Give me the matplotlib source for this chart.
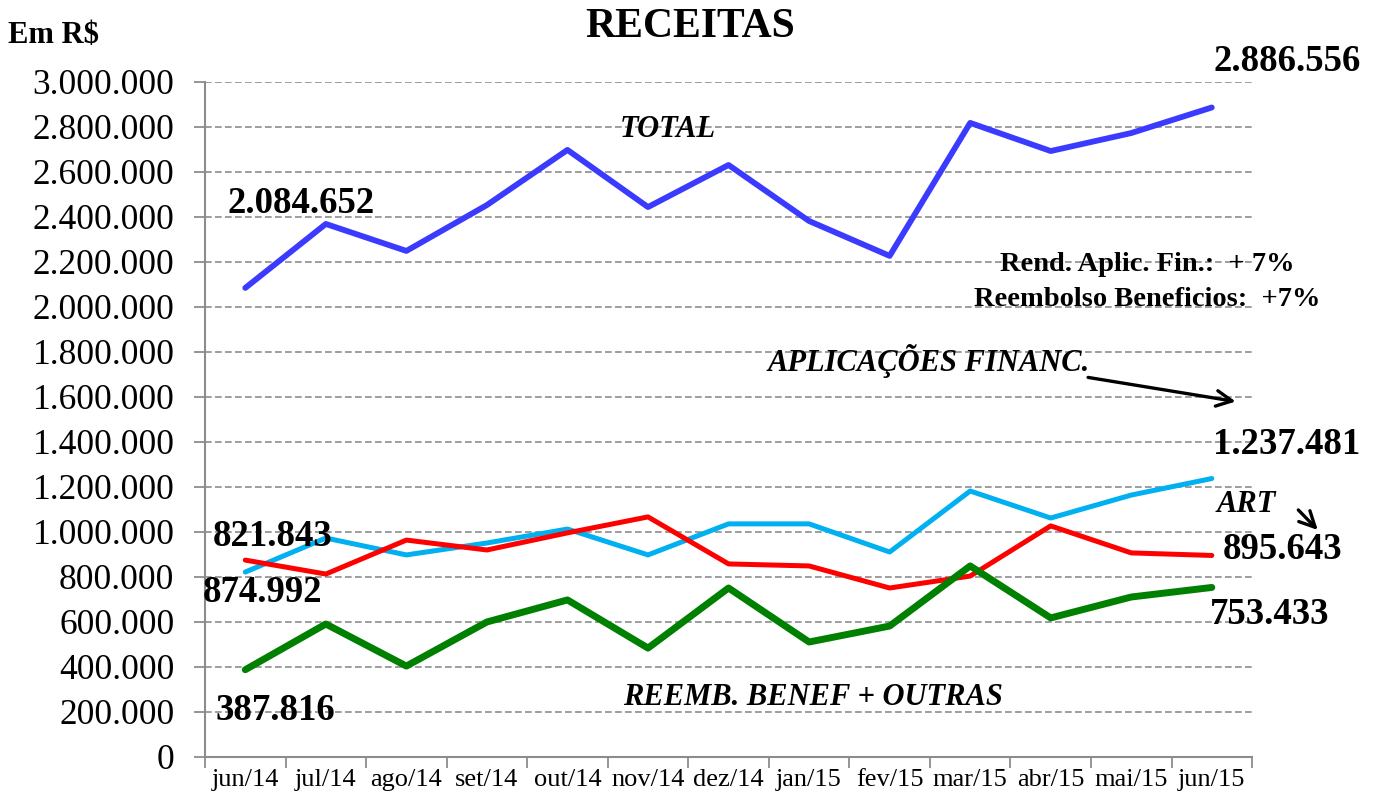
import matplotlib
matplotlib.use("Agg")
import matplotlib.pyplot as plt
from matplotlib.ticker import FuncFormatter, MultipleLocator, FixedLocator

FIG_W = 13.75
FIG_H = 7.98
DPI = 100

plt.rcParams['font.family'] = ['Liberation Serif', 'DejaVu Serif']

# data (R$)
meses = ['jun/14', 'jul/14', 'ago/14', 'set/14', 'out/14', 'nov/14', 'dez/14',
         'jan/15', 'fev/15', 'mar/15', 'abr/15', 'mai/15', 'jun/15']

total = [2084652, 2369000, 2249000, 2453000, 2698000, 2444000, 2631000,
         2382000, 2227000, 2818000, 2693000, 2773000, 2886556]
aplicacoes = [821843, 973000, 898000, 951000, 1013000, 898000, 1036000,
              1036000, 911000, 1182000, 1062000, 1164000, 1237481]
art = [874992, 813000, 964000, 920000, 996000, 1067000, 858000,
       849000, 751000, 804000, 1027000, 907000, 895643]
reemb = [387816, 591000, 404000, 600000, 698000, 484000, 751000,
         511000, 582000, 849000, 618000, 711000, 753433]


def fmt_br(v, pos=None):
    # 2.084.652 style
    return f"{int(round(v)):,}".replace(",", ".")


fig = plt.figure(figsize=(FIG_W, FIG_H), dpi=DPI)
ax = fig.add_axes([0.1491, 0.0514, 0.7615, 0.8459])

x = list(range(len(meses)))
ax.plot(x, total, color='#3B3BFF', lw=4.2, solid_capstyle='round', zorder=3)
ax.plot(x, aplicacoes, color='#00B0F0', lw=3.6, solid_capstyle='round', zorder=3)
ax.plot(x, art, color='#FF0000', lw=3.6, solid_capstyle='round', zorder=3)
ax.plot(x, reemb, color='#008000', lw=5.0, solid_capstyle='round', zorder=3)

ax.set_xlim(-0.5, len(meses) - 0.5)
ax.set_ylim(0, 3000000)

ax.yaxis.set_major_locator(MultipleLocator(200000))
ax.yaxis.set_major_formatter(FuncFormatter(fmt_br))
ax.grid(axis='y', color='#8C8C8C', ls=(0, (4, 2)), lw=1.2, zorder=1)

ax.set_xticks(x)
ax.set_xticklabels(meses)
ax.xaxis.set_minor_locator(FixedLocator([i - 0.5 for i in range(len(meses) + 1)]))
ax.tick_params(axis='x', which='major', length=0, pad=9, labelsize=19)
ax.tick_params(axis='x', which='minor', length=8, width=1.3, color='#8C8C8C')
ax.tick_params(axis='y', length=8, width=1.3, color='#8C8C8C', pad=14, labelsize=25.5)

for s in ['top', 'right']:
    ax.spines[s].set_visible(False)
for s in ['left', 'bottom']:
    ax.spines[s].set_color('#8C8C8C')
    ax.spines[s].set_linewidth(1.5)

# titles
fig.text(0.502, 0.966, 'RECEITAS', ha='center', va='center', fontsize=30, fontweight='bold')
fig.text(0.006, 0.956, 'Em R$', ha='left', va='center', fontsize=22, fontweight='bold')

# value labels
lab = dict(ha='center', va='center', fontsize=26.5, fontweight='bold', clip_on=False, zorder=4)
ax.text(0.69, 2457800, fmt_br(total[0]), **lab)
ax.text(12.93, 3088900, fmt_br(total[-1]), **lab)
ax.text(0.34, 977800, fmt_br(aplicacoes[0]), **lab)
ax.text(12.93, 1386700, fmt_br(aplicacoes[-1]), **lab)
ax.text(0.21, 728900, fmt_br(art[0]), **lab)
ax.text(12.88, 920000, fmt_br(art[-1]), **lab)
ax.text(0.37, 204400, fmt_br(reemb[0]), **lab)
ax.text(12.72, 631100, fmt_br(reemb[-1]), **lab)

# series names
nm = dict(ha='center', va='center', fontsize=22, fontweight='bold', fontstyle='italic',
          clip_on=False, zorder=4)
ax.text(5.25, 2786600, 'TOTAL', **nm)
ax.text(8.48, 1760000, 'APLICAÇÕES FINANC.', **nm)
ax.text(12.43, 1120000, 'ART', **nm)
ax.text(7.05, 262200, 'REEMB. BENEF + OUTRAS', **nm)

ax.text(11.2, 2186700, 'Rend. Aplic. Fin.:  + 7%', ha='center', va='center',
        fontsize=20.5, fontweight='bold', zorder=4)
ax.text(11.2, 2031000, 'Reembolso Beneficios:  +7%', ha='center', va='center',
        fontsize=20.5, fontweight='bold', zorder=4)

# arrows
arr = dict(arrowstyle='->', color='black', lw=2.4, mutation_scale=28)
ax.annotate('', xy=(12.33, 1577700), xytext=(10.43, 1688900), arrowprops=arr,
            annotation_clip=False)
ax.annotate('', xy=(13.34, 1000000), xytext=(13.05, 1106700), arrowprops=arr,
            annotation_clip=False)

fig.savefig('out.png', dpi=DPI)
